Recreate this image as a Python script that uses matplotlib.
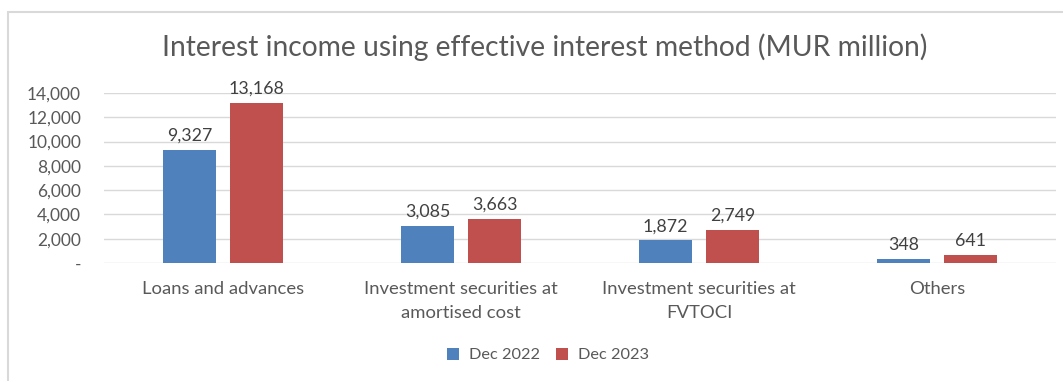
import matplotlib
matplotlib.use("Agg")
import matplotlib.pyplot as plt
import numpy as np
from matplotlib.patches import Rectangle

categories = ["Loans and advances", "Investment securities at\namortised cost",
              "Investment securities at\nFVTOCI", "Others"]
series_names = ["Dec 2022", "Dec 2023"]
dec2022 = [9327, 3085, 1872, 348]
dec2023 = [13168, 3663, 2749, 641]
yticks = [0, 2000, 4000, 6000, 8000, 10000, 12000, 14000]
ytick_labels = ["-", "2,000", "4,000", "6,000", "8,000", "10,000", "12,000", "14,000"]
title = "Interest income using effective interest method (MUR million)"

plt.rcParams['font.family'] = ['Lato', 'DejaVu Sans']
fig = plt.figure(figsize=(10.63, 3.81), dpi=100)
fig.patches.append(Rectangle((8/1063, -0.1), 1.2, (381-12)/381 + 0.1,
                             transform=fig.transFigure, fill=False,
                             edgecolor="#d9d9d9", linewidth=1.5))

ax = fig.add_axes([104/1063, 118/381, 952/1063, 170/381])
x = np.arange(len(categories))
w = 0.223
off = 0.141
colors = ["#4f81bd", "#c0504d"]
for vals, o, c, name in [(dec2022, -off, colors[0], series_names[0]),
                         (dec2023, off, colors[1], series_names[1])]:
    bars = ax.bar(x + o, vals, width=w, color=c, label=name, zorder=3)
    for b, v in zip(bars, vals):
        ax.text(b.get_x() + b.get_width()/2, v + 500, f"{v:,}", ha="center",
                va="bottom", fontsize=12.8, color="#404040")

ax.set_xlim(-0.5, len(categories) - 0.5)
ax.set_ylim(0, 14000)
ax.set_yticks(yticks)
ax.set_yticklabels(ytick_labels, fontsize=12.5, color="#595959")
ax.set_xticks(x)
ax.set_xticklabels(categories, fontsize=13.3, color="#595959", linespacing=1.6)
ax.tick_params(axis="both", length=0)
ax.tick_params(axis="y", pad=16.5)
ax.tick_params(axis="x", pad=13)
ax.grid(axis="y", color="#d9d9d9", linewidth=1, zorder=0)
for s in ax.spines.values():
    s.set_visible(False)

fig.text(545/1063, 1 - 47/381, title, ha="center", va="center", fontsize=20.3,
         color="#595959")
fig.legend(loc="center", bbox_to_anchor=(548/1063, 1 - 355/381), ncol=2,
           frameon=False, fontsize=11.8, handlelength=0.75, handleheight=0.75,
           columnspacing=1.0, handletextpad=0.6, labelcolor="#595959")

fig.savefig("out.png", dpi=100)
